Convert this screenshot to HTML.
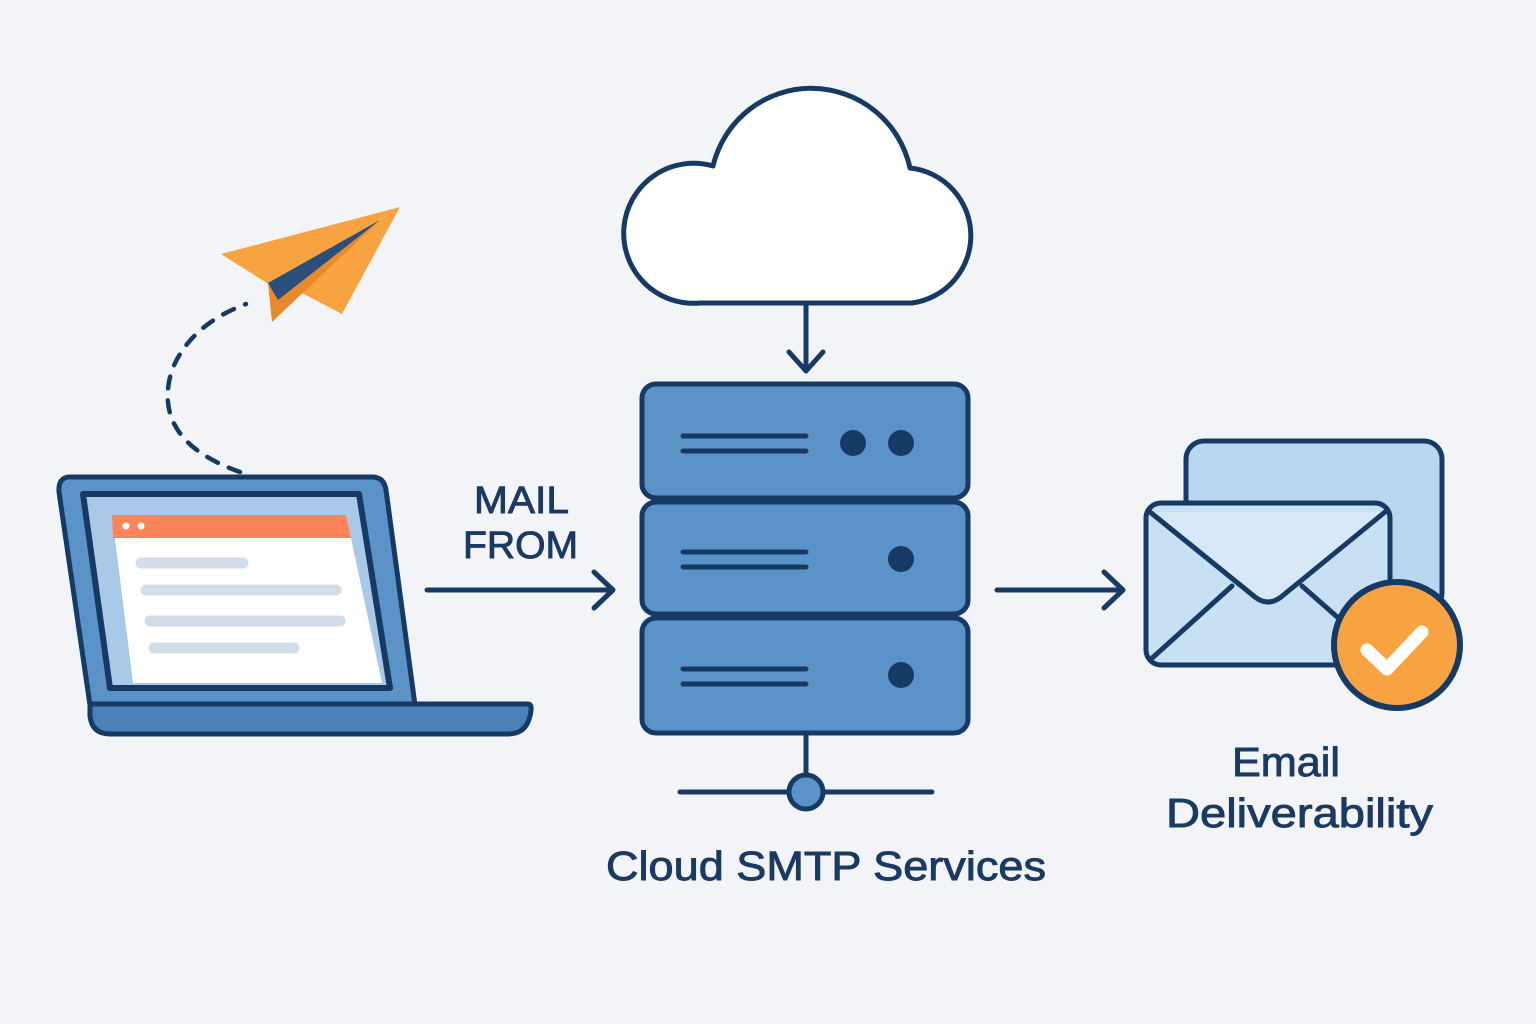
<!DOCTYPE html>
<html><head><meta charset="utf-8"><style>
html,body{margin:0;padding:0;background:#f3f4f8;}
svg{display:block}
text{font-family:"Liberation Sans",sans-serif;fill:#1a3a63;stroke:#1a3a63;stroke-width:0.9;}
</style></head><body>
<svg width="1536" height="1024" viewBox="0 0 1536 1024" xmlns="http://www.w3.org/2000/svg">
<rect width="1536" height="1024" fill="#f3f4f8"/>
<g stroke="#163a63" stroke-width="5" stroke-linecap="round" stroke-linejoin="round" fill="none">
<!-- cloud -->
<path d="M700 303 A70 70 0 1 1 713 166 A101 101 0 0 1 910 168 A68 68 0 0 1 912 303 Z" fill="#fff"/>
<line x1="806" y1="306" x2="806" y2="370"/>
<polyline points="789,352 806,371 823,352"/>
<!-- server -->
<rect x="642" y="384" width="326" height="114" rx="14" fill="#5b93c9"/>
<rect x="642" y="502" width="326" height="112" rx="14" fill="#5b93c9"/>
<rect x="642" y="618" width="326" height="115" rx="14" fill="#5b93c9"/>
<line x1="683" y1="436" x2="806" y2="436"/><line x1="683" y1="451" x2="806" y2="451"/>
<line x1="683" y1="552" x2="806" y2="552"/><line x1="683" y1="567" x2="806" y2="567"/>
<line x1="683" y1="669" x2="806" y2="669"/><line x1="683" y1="684" x2="806" y2="684"/>
<line x1="806" y1="735" x2="806" y2="775"/>
<line x1="680" y1="792" x2="932" y2="792"/>
<circle cx="806" cy="792" r="17" fill="#5b93c9"/>
<!-- arrows -->
<line x1="427" y1="590" x2="612" y2="590"/><polyline points="594,572 613,590 594,608"/>
<line x1="997" y1="590" x2="1122" y2="590"/><polyline points="1104,572 1123,590 1104,608"/>
<!-- laptop -->
<path d="M70 477 L372 477 Q384 477 386 490 L415 705 L90 705 L59 492 Q58 477 70 477 Z" fill="#5b93c9"/>
<path d="M83 494 L359 494 L390 688 L110 688 Z" fill="#a9c9e8" stroke-width="6"/>
<path d="M112 515 L346 515 L382 683 L133 683 Z" fill="#fff" stroke="none"/>
<path d="M112 515 L346 515 L351 538 L113 538 Z" fill="#fb8559" stroke="none"/>
<path d="M90 704 L528 704 Q533 704 530 716 Q526 734 508 734 L110 734 Q92 734 90 716 Z" fill="#4c80b8"/>
<!-- paper plane dashes -->
<path d="M240 472 Q150 440 172 370 Q190 325 246 304" stroke-dasharray="12 12" stroke-width="4.5"/>
<!-- email -->
<rect x="1186" y="441" width="256" height="170" rx="18" fill="#b9d7ee"/>
<rect x="1146" y="503" width="244" height="162" rx="15" fill="#c8e0f4"/>
<path d="M1150 512 L1255 597 Q1268 607 1281 597 L1385 512" fill="#d7e9f9"/>
<line x1="1150" y1="660" x2="1232" y2="586"/><line x1="1386" y1="660" x2="1302" y2="586"/>
<circle cx="1397" cy="645" r="63" fill="#f7a341" stroke-width="6"/>
<polyline points="1367,650 1387,669 1422,632" stroke="#fff" stroke-width="13"/>
</g>
<g fill="#163a63">
<circle cx="853" cy="443" r="13"/><circle cx="901" cy="443" r="13"/>
<circle cx="901" cy="559" r="13"/><circle cx="901" cy="675" r="13"/>
</g>
<circle cx="126" cy="526" r="3.5" fill="#fff"/><circle cx="141" cy="526" r="3.5" fill="#fff"/>
<g stroke="#d3dde8" stroke-width="11" stroke-linecap="round">
<line x1="141" y1="563" x2="243" y2="563"/>
<line x1="146" y1="590" x2="336" y2="590"/>
<line x1="150" y1="621" x2="340" y2="621"/>
<line x1="154" y1="648" x2="294" y2="648"/>
</g>
<!-- plane -->
<polygon points="221,254 400,207 270,285" fill="#f7a341"/>
<polygon points="270,285 400,207 342,314 300,292" fill="#f7a341"/>
<polygon points="268,283 380,220 272,322" fill="#e88a2c"/>
<polygon points="268,283 380,220 278,300" fill="#2b4f7a"/>
<text x="474" y="513" font-size="38" textLength="95" lengthAdjust="spacingAndGlyphs">MAIL</text>
<text x="463" y="558" font-size="38" textLength="115" lengthAdjust="spacingAndGlyphs">FROM</text>
<text x="606" y="880" font-size="41" textLength="440" lengthAdjust="spacingAndGlyphs">Cloud SMTP Services</text>
<text x="1232" y="776" font-size="41" textLength="108" lengthAdjust="spacingAndGlyphs">Email</text>
<text x="1166" y="827" font-size="41" textLength="267" lengthAdjust="spacingAndGlyphs">Deliverability</text>
</svg>
</body></html>
